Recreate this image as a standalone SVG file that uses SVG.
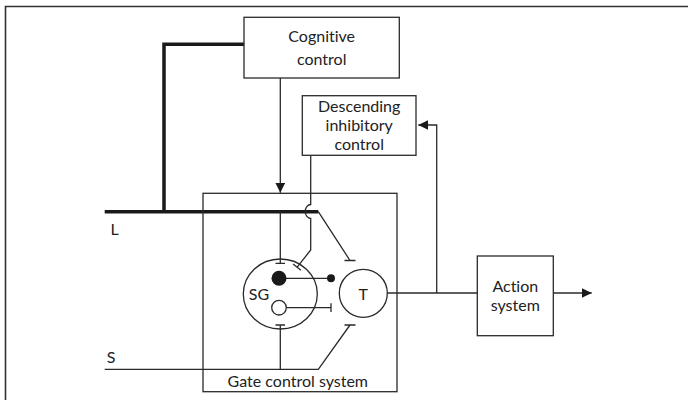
<svg xmlns="http://www.w3.org/2000/svg" width="688" height="400" viewBox="0 0 688 400">
  <style>
    .box { fill: #fff; stroke: #2a2a2a; stroke-width: 1.3; }
    .ln { fill: none; stroke: #2a2a2a; stroke-width: 1.3; }
    .thick { fill: none; stroke: #1a1a1a; stroke-width: 3.5; }
    .lbl { font-family: Lato, "Open Sans", "Liberation Sans", sans-serif; font-size: 16px; fill: #222; text-anchor: middle; font-variant-ligatures: none; }
  </style>
  <defs>
    <marker id="arrow" markerUnits="userSpaceOnUse" markerWidth="10" markerHeight="10" refX="10" refY="5" orient="auto">
      <path d="M0,0 L10,5 L0,10 z" fill="#1a1a1a"/>
    </marker>
  </defs>

  <rect width="688" height="400" fill="#fff"/>
  <!-- frame -->
  <path d="M5.5,400 V6.5 H688" fill="none" stroke="#333" stroke-width="1.6"/>

  <!-- connectors -->
  <g id="connectors">
    <!-- L fibres and cognitive branch -->
    <path class="thick" d="M244,44.3 H164 V211.7"/>
    <path class="thick" d="M104.7,211.7 H318.3"/>
    <!-- cognitive control into gate -->
    <path class="ln" d="M280.3,78 V192.7" marker-end="url(#arrow)"/>
    <!-- descending inhibitory line, hopping over L -->
    <path class="ln" d="M310.7,155.3 V204.5 A5.5 7 0 0 0 310.7 218.5 V250 L297,267.3"/>
    <path class="ln" d="M293.1,264 L300.9,270.2"/>
    <!-- L to SG -->
    <path class="ln" d="M280.3,211.7 V263.3 M275.5,263.3 H285"/>
    <!-- L to T -->
    <path class="ln" d="M318.3,211.7 L350,260.5 M344.5,260.5 H355.5"/>
    <!-- S fibre -->
    <path class="ln" d="M104.7,369.3 H318.3 L350,325 M344.5,325 H355.5"/>
    <path class="ln" d="M280.3,369.3 V325 M275.5,325 H285"/>
    <!-- SG cells to T -->
    <path class="ln" d="M279,278.3 H331"/>
    <circle cx="331" cy="278.3" r="4" fill="#1a1a1a"/>
    <path class="ln" d="M279,307.7 H331 M331,303.3 V312"/>
    <!-- T output -->
    <path class="ln" d="M387.3,293 H477.3"/>
    <path class="ln" d="M436.7,293 V125 H418.3" marker-end="url(#arrow)"/>
    <path class="ln" d="M553.3,293 H591.7" marker-end="url(#arrow)"/>
  </g>

  <g id="cognitive-control">
    <rect class="box" x="244" y="17.3" width="155.3" height="60.7"/>
    <text class="lbl" x="321.7" y="41.5">Cognitive</text>
    <text class="lbl" x="321.7" y="65">control</text>
  </g>

  <g id="descending-inhibitory-control">
    <rect class="box" x="302.3" y="95.7" width="113.7" height="59.6"/>
    <text class="lbl" x="359.2" y="111.5">Descending</text>
    <text class="lbl" x="359.2" y="130.5">inhibitory</text>
    <text class="lbl" x="359.2" y="149.5">control</text>
  </g>

  <g id="gate-control-system">
    <rect x="203" y="193.3" width="194" height="198.4" fill="none" stroke="#2a2a2a" stroke-width="1.3"/>
    <text class="lbl" x="297.8" y="386.7">Gate control system</text>
  </g>

  <g id="sg">
    <ellipse class="ln" cx="280.3" cy="294" rx="37" ry="35"/>
    <circle cx="279" cy="278.3" r="7.5" fill="#1a1a1a"/>
    <circle cx="279" cy="307.7" r="7.3" fill="#fff" stroke="#2a2a2a" stroke-width="1.3"/>
    <text class="lbl" x="259" y="300" font-size="17">SG</text>
  </g>

  <g id="t-cell">
    <circle class="ln" cx="363.3" cy="293.3" r="24"/>
    <text class="lbl" x="363.3" y="299.5" font-size="17">T</text>
  </g>

  <g id="action-system">
    <rect class="box" x="477.3" y="256" width="76" height="79.7"/>
    <text class="lbl" x="515.3" y="292">Action</text>
    <text class="lbl" x="515.3" y="311">system</text>
  </g>

  <g id="inputs">
    <text class="lbl" x="114.5" y="235">L</text>
    <text class="lbl" x="111" y="363.3">S</text>
  </g>
</svg>
